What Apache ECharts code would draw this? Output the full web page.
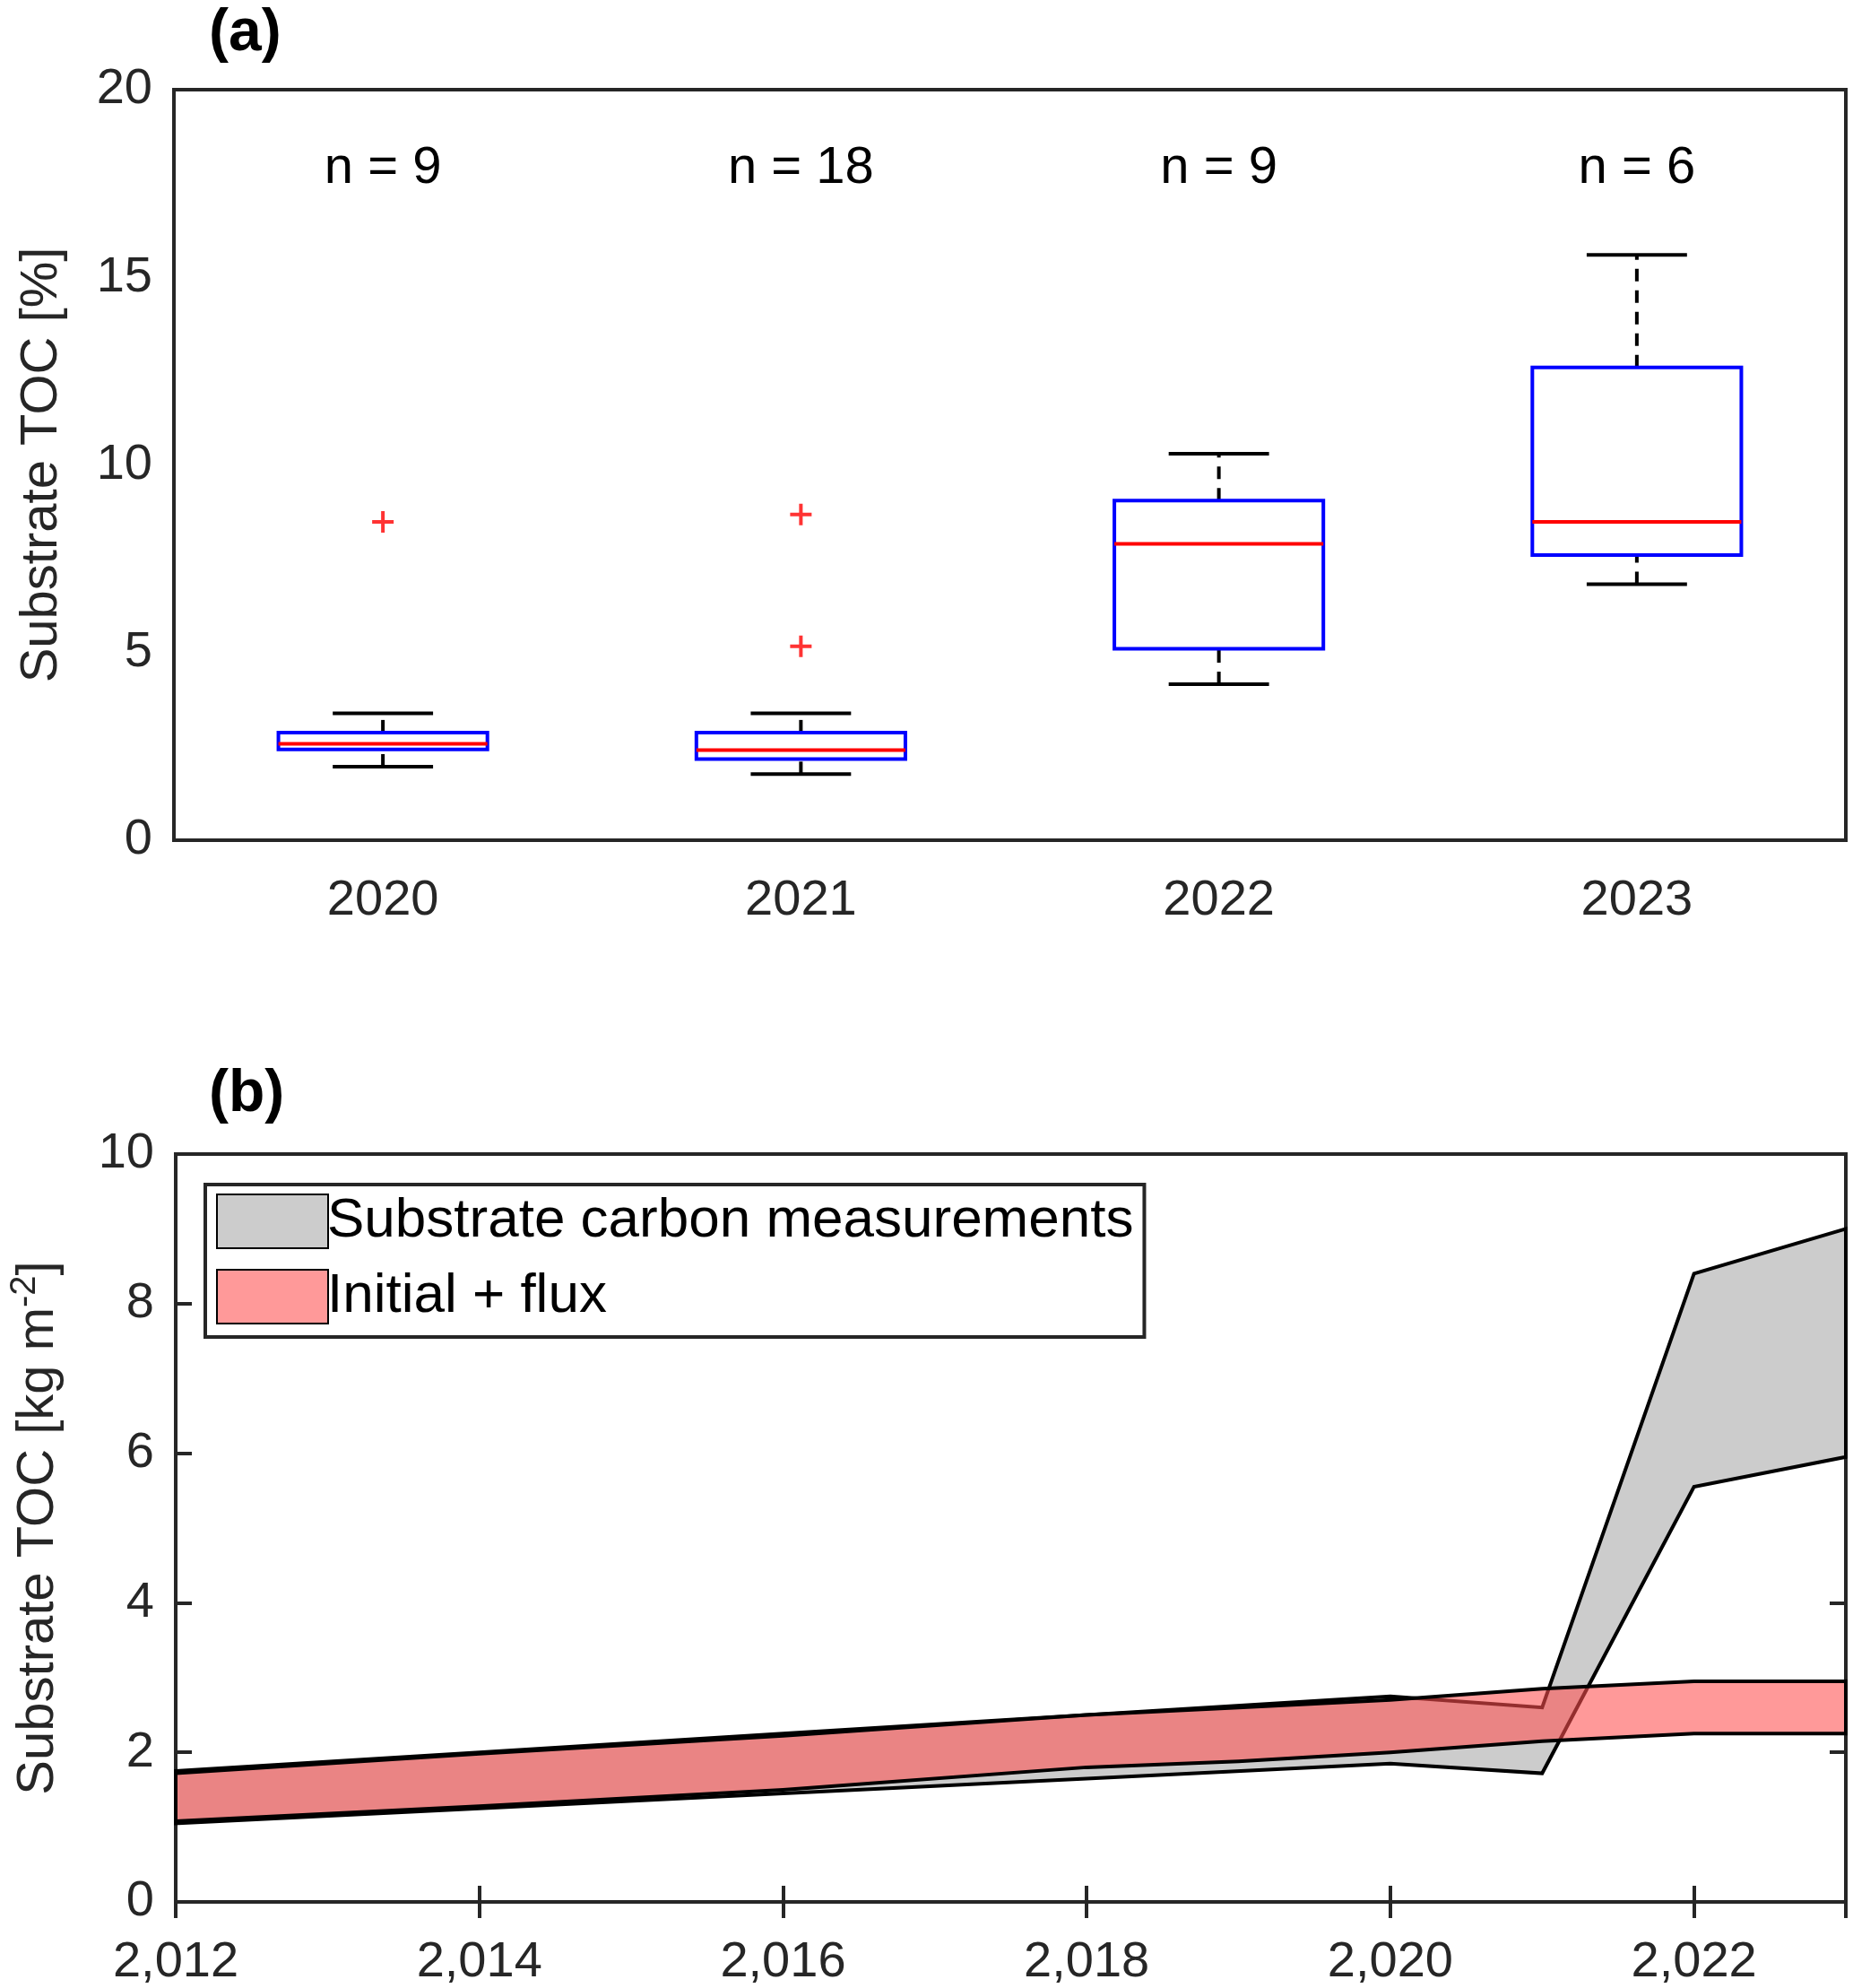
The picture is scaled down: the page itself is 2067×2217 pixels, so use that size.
<!DOCTYPE html>
<html><head><meta charset="utf-8">
<script src="https://cdn.jsdelivr.net/npm/echarts@6/dist/echarts.min.js"></script>
<style>html,body{margin:0;padding:0;background:#fff}#c{width:2067px;height:2217px}</style>
</head><body><div id="c"></div>
<script>
// panel (a) box stats
var boxYears = ['2020', '2021', '2022', '2023'];
var whiskLo = [1.96, 1.76, 4.16, 6.82];
var q1 = [2.42, 2.16, 5.1, 7.6];
var med = [2.57, 2.4, 7.9, 8.48];
var q3 = [2.87, 2.87, 9.05, 12.6];
var whiskHi = [3.38, 3.38, 10.3, 15.6];
var nLabels = ['n = 9', 'n = 18', 'n = 9', 'n = 6'];
var outlierCat = [0, 1, 1];
var outlierVal = [8.48, 8.68, 5.17];

// panel (b) bands
var measYears = [2012, 2014, 2016, 2018, 2020, 2021, 2022, 2023];
var measLo = [1.05, 1.25, 1.45, 1.65, 1.85, 1.72, 5.55, 5.95];
var measHi = [1.75, 2.0, 2.25, 2.5, 2.75, 2.6, 8.4, 9.0];
var fluxYears = [2012, 2014, 2016, 2018, 2019, 2020, 2021, 2022, 2023];
var fluxLo = [1.08, 1.28, 1.5, 1.8, 1.88, 2.0, 2.15, 2.25, 2.25];
var fluxHi = [1.72, 1.98, 2.22, 2.5, 2.6, 2.7, 2.85, 2.95, 2.95];

var FONT = 'Liberation Sans, Arial, sans-serif';
var myChart = echarts.init(document.getElementById('c'));

function bandRender(xs, lo, hi) {
    return function (params, api) {
        if (params.dataIndex !== 0) return;
        var pts = [];
        for (var i = 0; i < xs.length; i++) pts.push(api.coord([xs[i], hi[i]]));
        for (var j = xs.length - 1; j >= 0; j--) pts.push(api.coord([xs[j], lo[j]]));
        var st = api.style();
        return {
            type: 'polygon',
            shape: { points: pts },
            style: { fill: st.fill, stroke: '#000', lineWidth: 4, opacity: 1 }
        };
    };
}

var boxData = boxYears.map(function (y, i) {
    return [i, whiskLo[i], q1[i], med[i], q3[i], whiskHi[i]];
});

function boxRender(params, api) {
    var x = api.coord([api.value(0), 0])[0];
    var bw = api.size([1, 0])[0];
    var hb = bw * 0.25, hc = bw * 0.12;
    var yLo = api.coord([0, api.value(1)])[1];
    var yQ1 = api.coord([0, api.value(2)])[1];
    var yMed = api.coord([0, api.value(3)])[1];
    var yQ3 = api.coord([0, api.value(4)])[1];
    var yHi = api.coord([0, api.value(5)])[1];
    var blk = { stroke: '#000', lineWidth: 4 };
    var dash = { stroke: '#000', lineWidth: 4, lineDash: [14, 10] };
    return {
        type: 'group',
        children: [
            { type: 'line', shape: { x1: x, y1: yLo, x2: x, y2: yQ1 }, style: dash },
            { type: 'line', shape: { x1: x, y1: yQ3, x2: x, y2: yHi }, style: dash },
            { type: 'line', shape: { x1: x - hc, y1: yLo, x2: x + hc, y2: yLo }, style: blk },
            { type: 'line', shape: { x1: x - hc, y1: yHi, x2: x + hc, y2: yHi }, style: blk },
            { type: 'rect', shape: { x: x - hb, y: yQ3, width: 2 * hb, height: yQ1 - yQ3 },
              style: { fill: '#fff', stroke: '#0000ff', lineWidth: 4 } },
            { type: 'line', shape: { x1: x - hb, y1: yMed, x2: x + hb, y2: yMed },
              style: { stroke: '#ff0000', lineWidth: 4 } }
        ]
    };
}

function nRender(params, api) {
    var p = api.coord([api.value(0), 17.9]);
    return {
        type: 'text',
        style: { text: nLabels[params.dataIndex], x: p[0], y: p[1], align: 'center',
                 verticalAlign: 'middle', font: '58px ' + FONT, fill: '#000' }
    };
}

var axisLine = { lineStyle: { color: '#262626', width: 4 } };
var tickIn = { inside: true, length: 18, lineStyle: { color: '#262626', width: 4 } };
var lbl = { fontSize: 56, color: '#262626', fontFamily: FONT };

option = {
    backgroundColor: '#fff',
    animation: false,
    title: [
        { text: '(a)', left: 228, top: 0, textStyle: { fontSize: 66, fontWeight: 'bold', fontFamily: FONT, color: '#000' } },
        { text: '(b)', left: 228, top: 1183, textStyle: { fontSize: 66, fontWeight: 'bold', fontFamily: FONT, color: '#000' } }
    ],
    legend: {
        left: 229, top: 1321, orient: 'vertical',
        data: ['Substrate carbon measurements', 'Initial + flux'],
        icon: 'rect', itemWidth: 124, itemHeight: 60, itemGap: 22,
        padding: [10, 12, 14, 12],
        borderColor: '#262626', borderWidth: 4, backgroundColor: '#fff',
        textStyle: { fontSize: 62, color: '#000', fontFamily: FONT, padding: [0, 0, 0, -6] }
    },
    grid: [
        { left: 194, right: 8, top: 100, height: 837, show: true, borderColor: '#262626', borderWidth: 4 },
        { left: 194, right: 8, top: 1287, height: 835, show: true, borderColor: '#262626', borderWidth: 4 }
    ],
    xAxis: [
        { gridIndex: 0, type: 'category', data: boxYears, boundaryGap: true,
          axisLine: axisLine, axisTick: Object.assign({ alignWithLabel: true }, tickIn),
          axisLabel: Object.assign({ margin: 40 }, lbl), splitLine: { show: false } },
        { gridIndex: 0, type: 'category', data: boxYears, position: 'top',
          axisLine: axisLine, axisTick: Object.assign({ alignWithLabel: true }, tickIn),
          axisLabel: { show: false } },
        { gridIndex: 1, type: 'value', min: 2012, max: 2023, interval: 2,
          axisLine: axisLine, axisTick: tickIn, splitLine: { show: false },
          axisLabel: Object.assign({ margin: 40, showMaxLabel: false }, lbl) },
        { gridIndex: 1, type: 'value', min: 2012, max: 2023, interval: 2, position: 'top',
          axisLine: axisLine, axisTick: tickIn, splitLine: { show: false }, axisLabel: { show: false } }
    ],
    yAxis: [
        { gridIndex: 0, type: 'value', min: 0, max: 20, interval: 5,
          name: 'Substrate TOC [%]', nameLocation: 'middle', nameGap: 118,
          nameTextStyle: { fontSize: 58, color: '#262626', fontFamily: FONT },
          axisLine: axisLine, axisTick: tickIn, splitLine: { show: false },
          axisLabel: Object.assign({ margin: 24 }, lbl) },
        { gridIndex: 0, type: 'value', min: 0, max: 20, interval: 5, position: 'right',
          axisLine: axisLine, axisTick: tickIn, splitLine: { show: false }, axisLabel: { show: false } },
        { gridIndex: 1, type: 'value', min: 0, max: 10, interval: 2,
          name: 'Substrate TOC [kg m{sup|-2}]', nameLocation: 'middle', nameGap: 118,
          nameTextStyle: { fontSize: 58, color: '#262626', fontFamily: FONT,
              rich: { sup: { fontSize: 40, color: '#262626', fontFamily: FONT, verticalAlign: 'top', padding: [0, 0, 30, 0] } } },
          axisLine: axisLine, axisTick: tickIn, splitLine: { show: false },
          axisLabel: Object.assign({ margin: 24 }, lbl) },
        { gridIndex: 1, type: 'value', min: 0, max: 10, interval: 2, position: 'right',
          axisLine: axisLine, axisTick: tickIn, splitLine: { show: false }, axisLabel: { show: false } }
    ],
    series: [
        { type: 'custom', xAxisIndex: 0, yAxisIndex: 0, renderItem: boxRender, data: boxData, silent: true },
        { type: 'custom', xAxisIndex: 0, yAxisIndex: 0, renderItem: nRender,
          data: boxYears.map(function (y, i) { return [i, 17.9]; }), silent: true },
        { type: 'scatter', xAxisIndex: 0, yAxisIndex: 0, symbol: 'path://M-1,-6H1V-1H6V1H1V6H-1V1H-6V-1H-1Z',
          symbolSize: 24, itemStyle: { color: '#ff0000' },
          data: outlierCat.map(function (c, i) { return [c, outlierVal[i]]; }) },
        { name: 'Substrate carbon measurements', type: 'custom', xAxisIndex: 2, yAxisIndex: 2,
          renderItem: bandRender(measYears, measLo, measHi),
          itemStyle: { color: '#cccccc', borderColor: '#000', borderWidth: 4 },
          data: measYears.map(function (x, i) { return [x, measLo[i], measHi[i]]; }) },
        { name: 'Initial + flux', type: 'custom', xAxisIndex: 2, yAxisIndex: 2,
          renderItem: function (params, api) {
              var el = bandRender(fluxYears, fluxLo, fluxHi)(params, api);
              if (el) { el.style.fill = 'rgba(255,80,80,0.58)'; }
              return el;
          },
          itemStyle: { color: '#ff9999', borderColor: '#000', borderWidth: 4 },
          data: fluxYears.map(function (x, i) { return [x, fluxLo[i], fluxHi[i]]; }) }
    ]
};
myChart.setOption(option);
</script></body></html>
